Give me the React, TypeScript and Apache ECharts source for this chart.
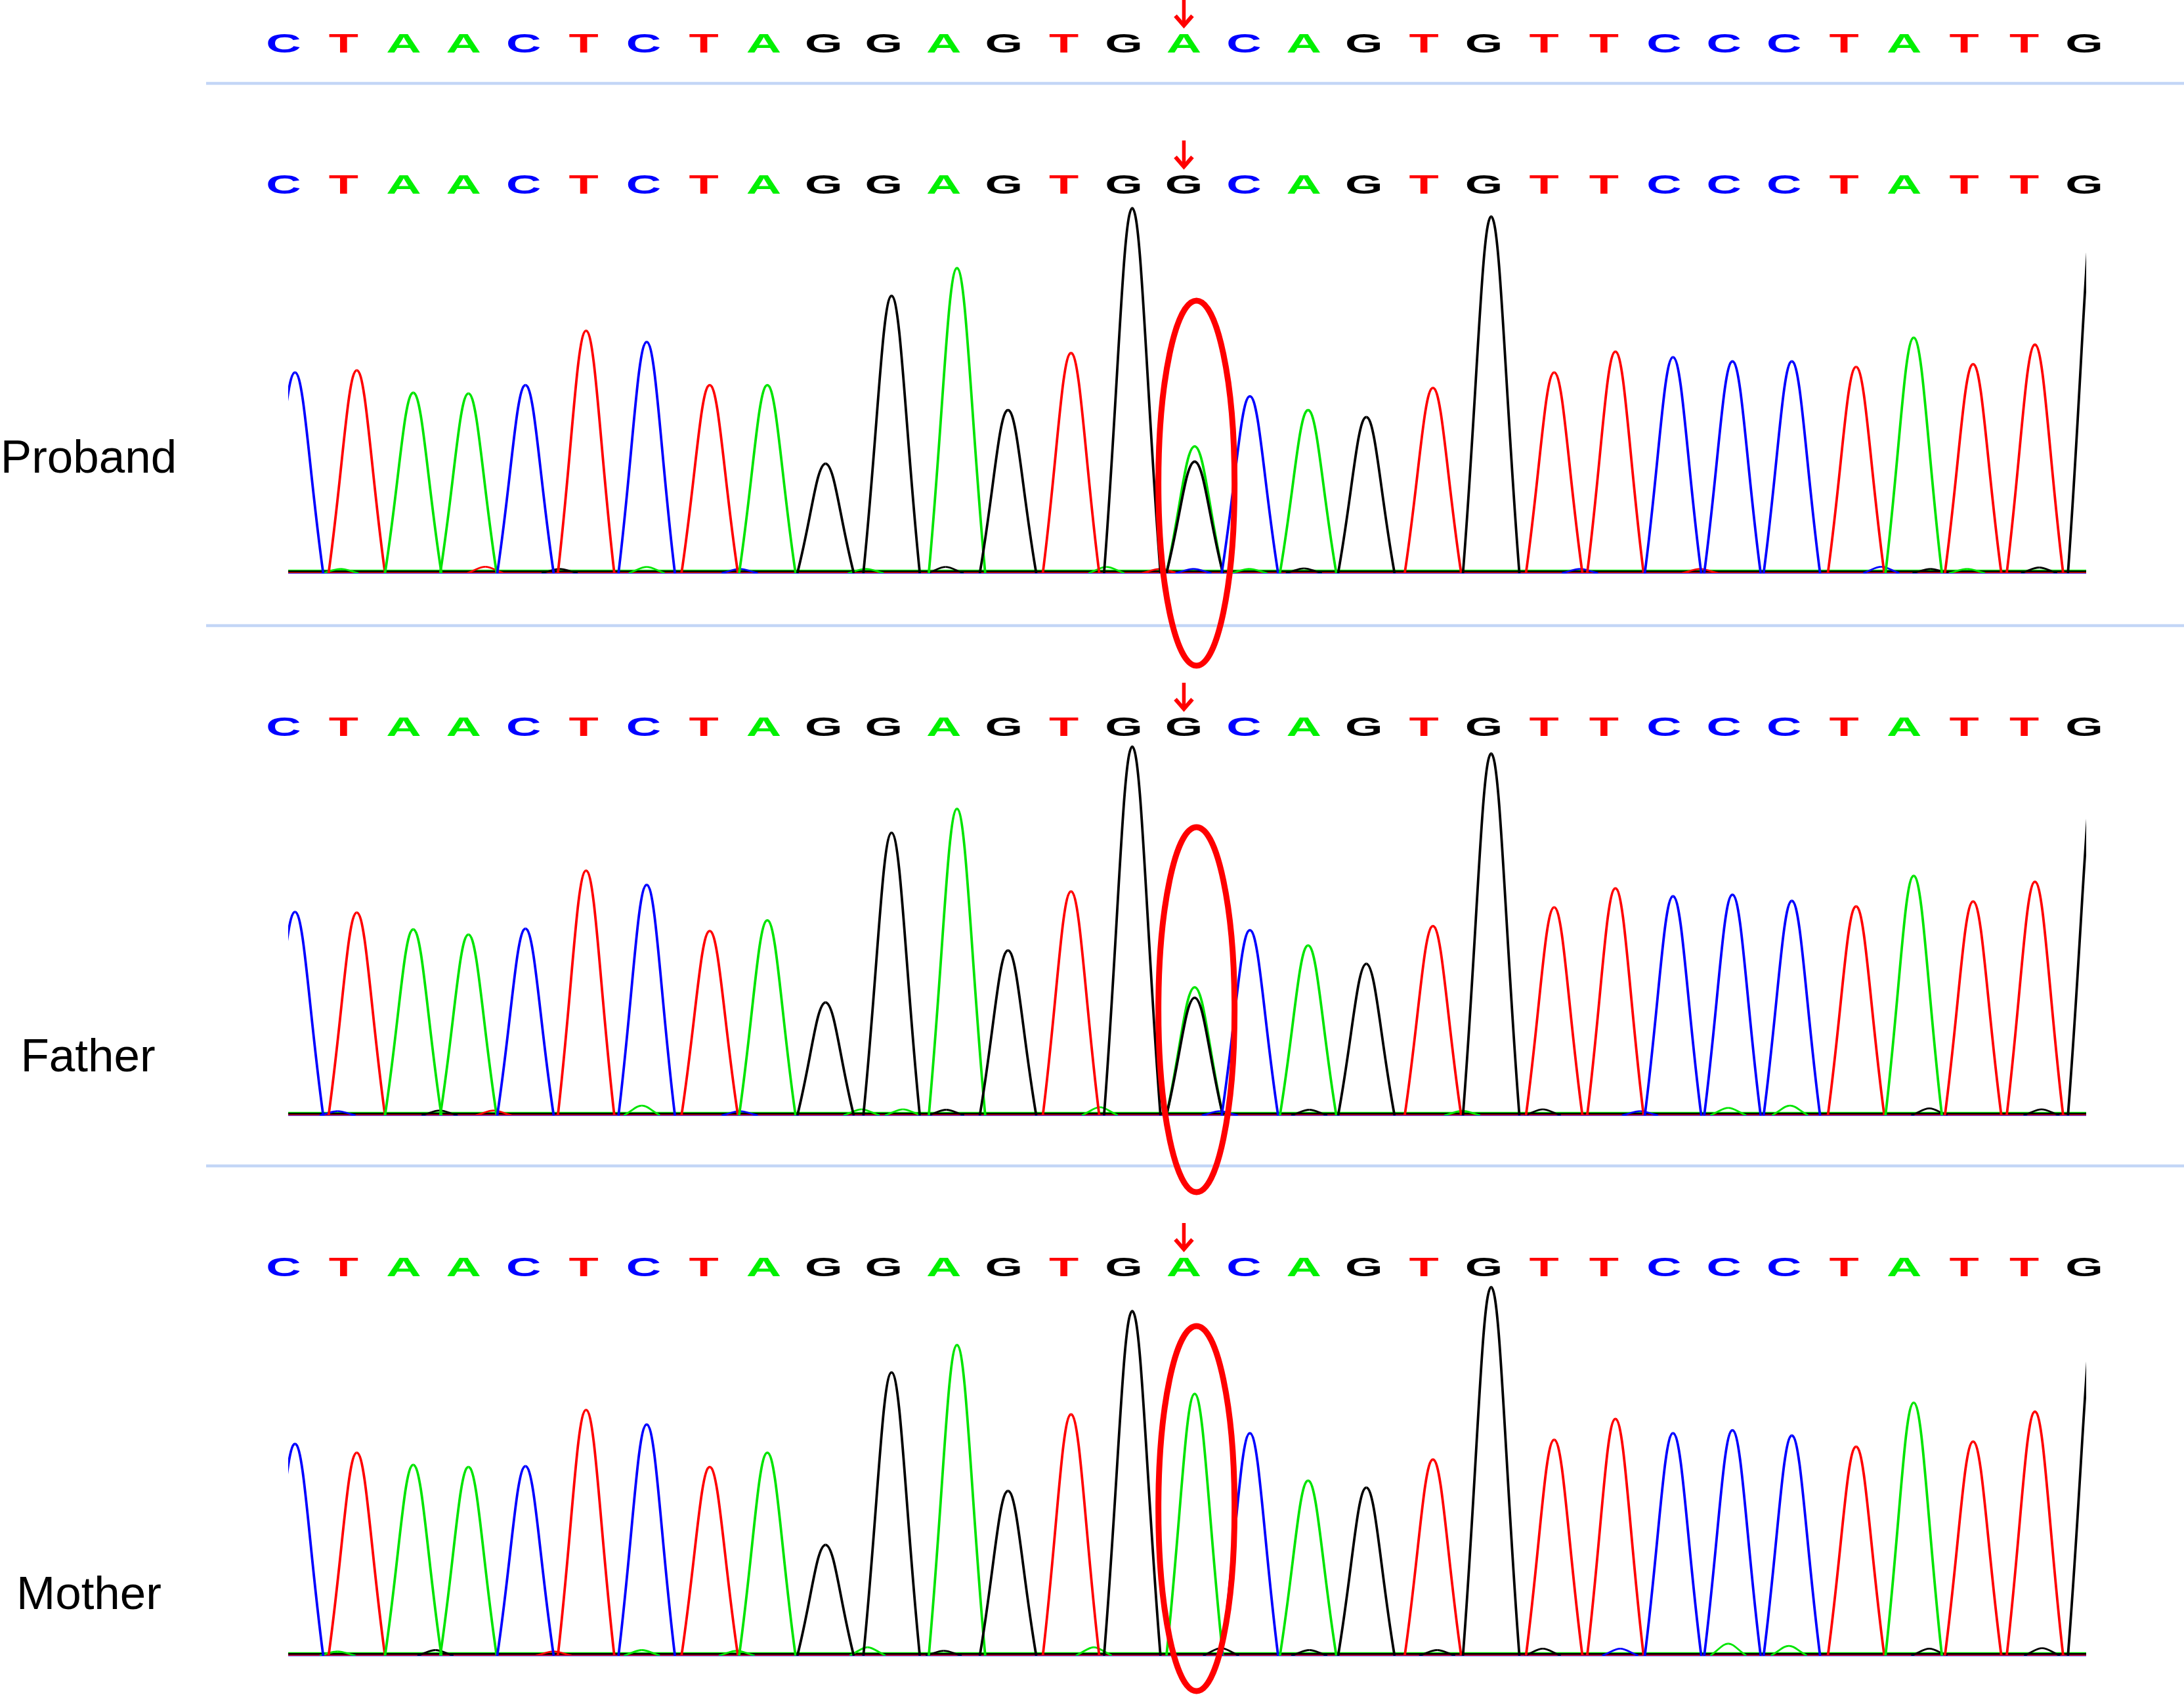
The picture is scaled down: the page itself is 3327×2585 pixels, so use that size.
import React, { useEffect, useRef } from 'react';
import * as echarts from 'echarts';

// ---------------- DATA ----------------
const REFERENCE_SEQ = 'CTAACTCTAGGAGTGACAGTGTTCCCTATTG'.split('');
const PROBAND_SEQ = 'CTAACTCTAGGAGTGGCAGTGTTCCCTATTG'.split('');
const FATHER_SEQ = 'CTAACTCTAGGAGTGGCAGTGTTCCCTATTG'.split('');
const MOTHER_SEQ = 'CTAACTCTAGGAGTGACAGTGTTCCCTATTG'.split('');
const VARIANT_POSITION = 16;

// peak apex positions (in base-call units, shared by the three traces)
const PEAK_POSITIONS = [1.19, 2.22, 3.16, 4.08, 5.03, 6.04, 7.05, 8.1, 9.06, 10.03, 11.13, 12.22, 13.07, 14.12, 15.14,
  16.18, 17.1, 18.07, 19.04, 20.15, 21.12, 22.17, 23.19, 24.15, 25.14, 26.13, 27.2, 28.16, 29.15, 30.18, 31.2];

// signal height of the called-base peak at each position
const PROBAND_HEIGHTS = [144, 145.6, 129.5, 129, 135, 174, 166, 135, 135, 78.5, 199, 219, 117, 158, 262,
  80, 127, 117, 112, 133, 256, 144, 159, 155, 152, 152, 148, 169, 150, 164, 277];
const FATHER_HEIGHTS = [146, 145.6, 133.5, 129.8, 134, 175.7, 165.5, 132.4, 140, 81, 202.8, 220, 118.4, 160.8, 264.7,
  84.4, 133, 122, 108.8, 135.9, 259.7, 149.3, 163, 157.3, 158.4, 154, 150, 172, 153.6, 167.7, 256];
const MOTHER_HEIGHTS = [152, 145.7, 137, 135.4, 136, 176.4, 166, 135.4, 145.7, 79.5, 203.3, 223, 118.2, 173.2, 247.4,
  188, 159.7, 125.7, 120.6, 140.8, 264.6, 155, 170, 159.7, 161.8, 158, 150, 181.6, 153.7, 175.2, 254];

// secondary (heterozygous) peaks: [position, base, height]
const PROBAND_SECONDARY = [[16.18, 'A', 91]];
const FATHER_SECONDARY = [[16.18, 'A', 92]];
const MOTHER_SECONDARY: any[] = [];

// small baseline bumps: [position, base, height]
const PROBAND_MINOR = [[1.95, 'A', 3], [4.36, 'T', 4.5], [5.6, 'G', 3], [7.05, 'A', 4.4], [8.6, 'C', 3], [10.7, 'A', 3],
  [12.03, 'G', 4.4], [14.71, 'A', 4.4], [15.6, 'T', 3], [16.16, 'C', 3], [17.09, 'A', 3], [18.0, 'G', 3.4],
  [22.6, 'C', 3], [24.6, 'T', 3], [27.62, 'C', 4.5], [28.44, 'G', 3], [29.05, 'A', 3], [30.25, 'G', 4]];
const FATHER_MINOR = [[1.9, 'C', 3], [3.6, 'G', 3.5], [4.5, 'T', 3.5], [6.97, 'A', 7], [8.6, 'C', 3], [10.63, 'A', 4.3],
  [11.32, 'A', 4.3], [12.04, 'G', 4], [14.6, 'A', 5.8], [16.6, 'C', 3], [18.09, 'G', 4], [20.64, 'A', 3.2],
  [21.98, 'G', 4.3], [23.6, 'C', 3], [25.07, 'A', 5.4], [26.1, 'A', 7], [28.42, 'G', 5], [30.29, 'G', 4.3]];
const MOTHER_MINOR = [[1.9, 'A', 3], [3.53, 'G', 4], [5.5, 'T', 3], [6.97, 'A', 4], [8.55, 'A', 3.5], [10.73, 'A', 6],
  [12.0, 'G', 3.5], [14.5, 'A', 6], [16.62, 'G', 5.4], [18.09, 'G', 4], [20.22, 'G', 4], [21.98, 'G', 5],
  [23.27, 'C', 5], [25.07, 'A', 8.6], [26.08, 'A', 7], [28.42, 'G', 5], [30.3, 'G', 5.4]];

// baseline level of each dye channel
const CHANNEL_BASELINE = { C: 0.3, A: 1.8, T: 0.7, G: 1.2 };

const PANEL_LABELS = ['Proband', 'Father', 'Mother'];

// ---------------- LAYOUT / STYLE ----------------
const W = 3327;
const H = 2585;
const CHANNELS = ['A', 'C', 'G', 'T'];
const BASELINE_ORDER = ['C', 'A', 'T', 'G'];
const TRACE_COLORS: any = { A: '#00e400', C: '#0000ff', G: '#000000', T: '#ff0000' };
const LETTER_COLORS: any = { A: '#00f000', C: '#0000ff', G: '#000000', T: '#ff0000' };
const LETTER_X0 = 432;
const LETTER_STEP = 91.43;
const TRACE_LEFT = 439;
const TRACE_RIGHT = 3178;
const XMIN = 1 + (TRACE_LEFT - LETTER_X0) / LETTER_STEP;
const XMAX = 1 + (TRACE_RIGHT - LETTER_X0) / LETTER_STEP;
const Y_MAX = 300;
const PX_PER_UNIT = 2.1218;
const ROW_BASELINES = [658, 873, 1699, 2522];
const LETTER_Y = 279;
const PEAK_HALF_WIDTH = 0.47;
const MINOR_HALF_WIDTH = 0.3;
const TRACE_WIDTH = 3.8;
const LETTER_FONT = 'bold 40px "Liberation Sans", Arial, sans-serif';
const LETTER_SCALE_X = 1.85;
const LABEL_FONT = '71px "Liberation Sans", Arial, sans-serif';
const LABEL_POS = [[135, 695], [134, 1607], [135.5, 2426]];
const SEPARATOR_Y = [127, 953, 1776];
const ELLIPSE_POS = 16.21;
const ELLIPSE_CY = [736, 1538, 2298];

const posToPx = (p: number) => LETTER_X0 + (p - 1) * LETTER_STEP;

function peakRenderer(halfWidth: number, lineWidth: number) {
  return (params: any, api: any) => {
    const pos = api.value(0);
    const h = api.value(1);
    const ch = CHANNELS[api.value(2)];
    const L = api.coord([pos - halfWidth, 0]);
    const A = api.coord([pos, h]);
    const R = api.coord([pos + halfWidth, 0]);
    const style = { stroke: TRACE_COLORS[ch], lineWidth, fill: 'none', lineJoin: 'round' };
    const half = (F: number[]) => {
      const dx = A[0] - F[0];
      const dy = A[1] - F[1];
      return {
        type: 'bezierCurve',
        shape: {
          x1: F[0], y1: F[1],
          cpx1: F[0] + 0.5 * dx, cpy1: F[1] + 0.5 * dy,
          cpx2: A[0] - 0.32 * dx, cpy2: A[1],
          x2: A[0], y2: A[1],
        },
        style,
      };
    };
    return { type: 'group', children: [half(L), half(R)] };
  };
}

function letterRenderer(seq: string[]) {
  return (params: any, api: any) => {
    const p = api.coord([api.value(0), LETTER_Y]);
    const b = seq[params.dataIndex];
    return {
      type: 'text',
      x: p[0],
      y: p[1],
      scaleX: LETTER_SCALE_X,
      style: {
        text: b,
        fill: LETTER_COLORS[b],
        font: LETTER_FONT,
        align: 'center',
        verticalAlign: 'middle',
        textAlign: 'center',
        textVerticalAlign: 'middle',
      },
    };
  };
}

function arrowRenderer(params: any, api: any) {
  const p = api.coord([api.value(0), LETTER_Y]);
  const x = p[0];
  const y = p[1];
  const style = { stroke: '#ff0000', lineWidth: 5.5, fill: 'none' };
  return {
    type: 'group',
    children: [
      { type: 'line', shape: { x1: x, y1: y - 67, x2: x, y2: y - 28 }, style },
      {
        type: 'polyline',
        shape: { points: [[x - 13, y - 42], [x, y - 27], [x + 13, y - 42]] },
        style: { ...style, lineWidth: 6, lineJoin: 'miter' },
      },
    ],
  };
}

function buildOption() {
  const grids = ROW_BASELINES.map((b) => ({
    left: TRACE_LEFT,
    width: TRACE_RIGHT - TRACE_LEFT,
    top: b - Y_MAX * PX_PER_UNIT,
    height: Y_MAX * PX_PER_UNIT,
  }));
  const xAxes = grids.map((_, i) => ({ type: 'value', gridIndex: i, min: XMIN, max: XMAX, show: false }));
  const yAxes = grids.map((_, i) => ({ type: 'value', gridIndex: i, min: 0, max: Y_MAX, show: false }));

  const series: any[] = [];
  const addLetters = (seq: string[], g: number) => {
    series.push({
      type: 'custom', xAxisIndex: g, yAxisIndex: g, clip: false, silent: true, z: 6,
      data: seq.map((_, i) => [i + 1, LETTER_Y]),
      renderItem: letterRenderer(seq),
    });
    series.push({
      type: 'custom', xAxisIndex: g, yAxisIndex: g, clip: false, silent: true, z: 6,
      data: [[VARIANT_POSITION, LETTER_Y]],
      renderItem: arrowRenderer,
    });
  };

  addLetters(REFERENCE_SEQ, 0);

  const panels = [
    { seq: PROBAND_SEQ, heights: PROBAND_HEIGHTS, secondary: PROBAND_SECONDARY, minor: PROBAND_MINOR },
    { seq: FATHER_SEQ, heights: FATHER_HEIGHTS, secondary: FATHER_SECONDARY, minor: FATHER_MINOR },
    { seq: MOTHER_SEQ, heights: MOTHER_HEIGHTS, secondary: MOTHER_SECONDARY, minor: MOTHER_MINOR },
  ];

  panels.forEach((panel, k) => {
    const g = k + 1;
    addLetters(panel.seq, g);
    BASELINE_ORDER.forEach((ch) => {
      series.push({
        type: 'line', xAxisIndex: g, yAxisIndex: g, silent: true, symbol: 'none', z: 2,
        lineStyle: { color: TRACE_COLORS[ch], width: TRACE_WIDTH - 1 },
        data: [[XMIN, (CHANNEL_BASELINE as any)[ch]], [XMAX, (CHANNEL_BASELINE as any)[ch]]],
      });
    });
    series.push({
      type: 'custom', xAxisIndex: g, yAxisIndex: g, clip: true, silent: true, z: 3,
      data: panel.minor.map((m: any) => [m[0], m[2], CHANNELS.indexOf(m[1])]),
      renderItem: peakRenderer(MINOR_HALF_WIDTH, TRACE_WIDTH - 1),
    });
    const main = panel.seq.map((b, i) => [PEAK_POSITIONS[i], panel.heights[i], CHANNELS.indexOf(b)]);
    const second = panel.secondary.map((m: any) => [m[0], m[2], CHANNELS.indexOf(m[1])]);
    series.push({
      type: 'custom', xAxisIndex: g, yAxisIndex: g, clip: true, silent: true, z: 4,
      data: [...second, ...main],
      renderItem: peakRenderer(PEAK_HALF_WIDTH, TRACE_WIDTH),
    });
  });

  const graphic: any[] = [];
  SEPARATOR_Y.forEach((y) => {
    graphic.push({
      type: 'line', z: 0, silent: true,
      shape: { x1: 314, y1: y, x2: W, y2: y },
      style: { stroke: '#c3d6f6', lineWidth: 4.5 },
    });
  });
  PANEL_LABELS.forEach((t, i) => {
    graphic.push({
      type: 'text', z: 10, silent: true,
      x: LABEL_POS[i][0], y: LABEL_POS[i][1],
      style: {
        text: t, font: LABEL_FONT, fill: '#000',
        align: 'center', verticalAlign: 'middle', textAlign: 'center', textVerticalAlign: 'middle',
      },
    });
  });
  ELLIPSE_CY.forEach((cy) => {
    graphic.push({
      type: 'ellipse', z: 100, silent: true,
      shape: { cx: posToPx(ELLIPSE_POS), cy, rx: 58, ry: 278 },
      style: { stroke: '#ff0000', lineWidth: 9, fill: 'none' },
    });
  });

  return {
    animation: false,
    backgroundColor: '#ffffff',
    grid: grids,
    xAxis: xAxes,
    yAxis: yAxes,
    series,
    graphic,
  };
}

export default function App() {
  const ref = useRef<HTMLDivElement>(null);
  useEffect(() => {
    const chart = echarts.init(ref.current as HTMLDivElement, undefined, { renderer: 'svg', width: W, height: H });
    chart.setOption(buildOption() as any);
    return () => chart.dispose();
  }, []);
  return (
    <div
      ref={ref}
      style={{ position: 'absolute', left: 0, top: 0, width: W, height: H, background: '#fff' }}
    />
  );
}
